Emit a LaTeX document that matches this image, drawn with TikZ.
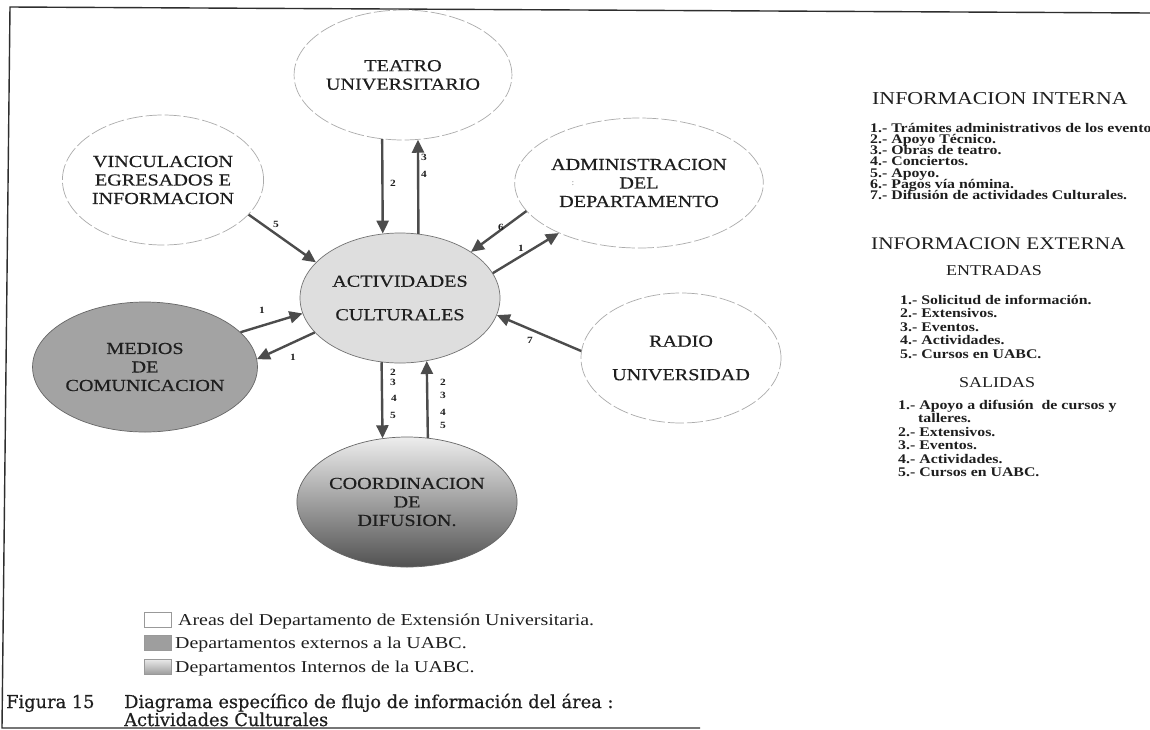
\documentclass[tikz,border=0pt]{standalone}
\usepackage{fontspec}
\setmainfont{Liberation Serif}
\newfontfamily\widefont[FakeStretch=1.2]{Liberation Serif}
\newfontfamily\nodefont[FakeStretch=1.2, FakeBold=0.4]{Liberation Serif}
\newfontfamily\capfont[FakeBold=0.6]{DejaVu Serif}
\usetikzlibrary{shapes.geometric, arrows.meta}

\definecolor{ink}{HTML}{1E1E1E}
\definecolor{flowgray}{HTML}{4C4C4C}
\definecolor{rimgray}{HTML}{ABABAB}
\definecolor{framegray}{HTML}{2E2E2E}

\begin{document}
\begin{tikzpicture}[x=1pt, y=-1pt,
  area/.style={ellipse, minimum width=200pt, minimum height=130pt, inner sep=0pt,
    draw=rimgray, line width=0.7pt, dash pattern=on 16pt off 3pt, text=ink,
    align=center, font=\nodefont\fontsize{16.8}{18.5}\selectfont},
  hub/.style={area, solid, draw=black!55, fill=black!13},
  outside/.style={area, solid, draw=black!60, fill=black!36},
  inside/.style={area, solid, draw=black!60, top color=black!7, bottom color=black!68},
  flow/.style={draw=flowgray, line width=2.4pt, -{Triangle[length=13pt, width=12pt]}},
  num/.style={inner sep=0pt, text=ink, font=\widefont\bfseries\fontsize{9.5}{9.5}\selectfont},
  heading/.style={anchor=base west, inner sep=0pt, text=ink, font=\widefont\fontsize{18.2}{20}\selectfont},
  subheading/.style={anchor=base, inner sep=0pt, text=ink, font=\widefont\fontsize{15}{17}\selectfont},
  item/.style={anchor=base west, inner sep=0pt, text=ink, font=\widefont\bfseries\fontsize{13.2}{14}\selectfont},
  keybox/.style={draw=black!40, line width=0.5pt},
  keytext/.style={anchor=base west, inner sep=0pt, text=ink, font=\widefont\fontsize{16.6}{18}\selectfont},
  caption/.style={anchor=base west, inner sep=0pt, text=ink, font=\capfont\fontsize{17.8}{19}\selectfont}
]
\useasboundingbox (0,0) rectangle (1150,729);
\begin{scope}
\clip (0,0) rectangle (1150,729);
\fill[white] (0,0) rectangle (1150,729);

% page frame
\draw[framegray, line width=1.4pt] (1150,13) -- (10,7) -- (2,728) -- (700,728);

% areas around the hub
\node[area] (teatro) at (403,75) {TEATRO\\UNIVERSITARIO};
\node[area] (vinc) at (163,180) {VINCULACION\\EGRESADOS E\\INFORMACION};
\node[area] (admin) at (639,183) {ADMINISTRACION\\DEL\\DEPARTAMENTO};
\node[area] (radio) at (681,358) {RADIO\\[15pt]UNIVERSIDAD};
\node[inner sep=0pt, text=black!60, font=\fontsize{8}{8}\selectfont] (mark) at (573,184) {:};

% the hub and the departments of the university
\node[hub] (act) at (400,298) {ACTIVIDADES\\[15pt]CULTURALES};
\node[outside] (medios) at (145,367) {MEDIOS\\DE\\COMUNICACION};
\node[inside] (coord) at (407,502) {COORDINACION\\DE\\DIFUSION.};

% information flows
\draw[flow] (teatro.252.6) -- (act.105.1);
\draw[flow] (act.74.1) -- (teatro.283.2);
\draw[flow] (vinc.338.1) -- (act.157.5);
\draw[flow] (admin.194.3) -- (act.33.5);
\draw[flow] (act.15.3) -- (admin.212.0);
\draw[flow] (medios.20.8) -- (act.189.8);
\draw[flow] (act.202.9) -- (medios.4.0);
\draw[flow] (radio.176.6) -- (act.350.1);
\draw[flow] (act.254.1) -- (coord.111.6);
\draw[flow] (coord.72.6) -- (act.293.5);

% flow numbers
\node[num] (n2t) at (393,183) {2};
\node[num] (n3t) at (424,157) {3};
\node[num] (n4t) at (424,174) {4};
\node[num] (n5v) at (276,224) {5};
\node[num] (n6a) at (501,227) {6};
\node[num] (n1a) at (521,248) {1};
\node[num] (n1m) at (262,310) {1};
\node[num] (n1b) at (293,357) {1};
\node[num] (n7r) at (530,340) {7};
\node[num] (d2) at (393,372) {2};
\node[num] (d3) at (393,382) {3};
\node[num] (d4) at (394,398) {4};
\node[num] (d5) at (393,415) {5};
\node[num] (u2) at (443,382) {2};
\node[num] (u3) at (443,395) {3};
\node[num] (u4) at (443,412) {4};
\node[num] (u5) at (443,425) {5};

% internal information
\node[heading] (hint) at (872,104) {INFORMACION INTERNA};
\foreach \t [count=\i from 0] in {%
  1.- Trámites administrativos de los eventos.,
  2.- Apoyo Técnico.,
  3.- Obras de teatro.,
  4.- Conciertos.,
  5.- Apoyo.,
  6.- Pagos vía nómina.,
  7.- Difusión de actividades Culturales.}
  \node[item] (int\i) at (870,{132+11.3*\i}) {\t};

% external information
\node[heading, font=\widefont\fontsize{17.7}{20}\selectfont] (hext) at (871,249) {INFORMACION EXTERNA};
\node[subheading] (hin) at (994,275) {ENTRADAS};
\foreach \t [count=\i from 0] in {%
  1.- Solicitud de información.,
  2.- Extensivos.,
  3.- Eventos.,
  4.- Actividades.,
  5.- Cursos en UABC.}
  \node[item] (ent\i) at (900,{304+13.5*\i}) {\t};
\node[subheading] (hout) at (997,387) {SALIDAS};
\node[item] (sal0) at (898,409) {1.- Apoyo a difusión\ \ de cursos y};
\node[item] (sal0b) at (918,422.5) {talleres.};
\foreach \t [count=\i from 1] in {%
  2.- Extensivos.,
  3.- Eventos.,
  4.- Actividades.,
  5.- Cursos en UABC.}
  \node[item] (sal\i) at (898,{422.5+13.5*\i}) {\t};

% key
\draw[keybox, fill=white] (144,612) rectangle (171,627) node[midway] (k1) {};
\draw[keybox, fill=black!38] (144,635) rectangle (171,650) node[midway] (k2) {};
\draw[keybox, top color=black!8, bottom color=black!38] (144,659) rectangle (171,674) node[midway] (k3) {};
\node[keytext] (t1) at (178,625) {Areas del Departamento de Extensión Universitaria.};
\node[keytext] (t2) at (175,648) {Departamentos externos a la UABC.};
\node[keytext] (t3) at (175,672) {Departamentos Internos de la UABC.};

% caption
\node[caption] (fig) at (6,708) {Figura 15};
\node[caption] (cap1) at (124,708) {Diagrama específico de flujo de información del área :};
\node[caption] (cap2) at (124,726) {Actividades Culturales};
\end{scope}
\end{tikzpicture}
\end{document}
